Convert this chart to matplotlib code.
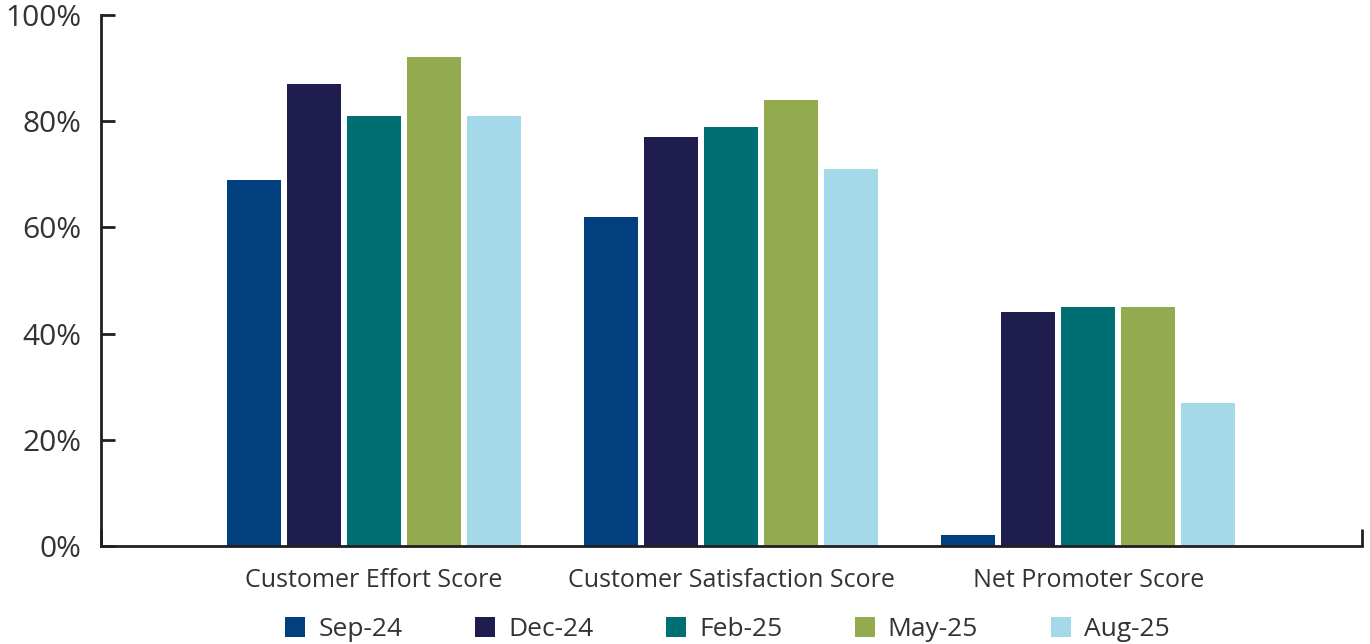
import numpy as np
import matplotlib
matplotlib.use('Agg')
from matplotlib import pyplot as plt
from matplotlib.patches import Patch

categories = ['Customer Effort Score', 'Customer Satisfaction Score', 'Net Promoter Score']
periods = ['Sep-24', 'Dec-24', 'Feb-25', 'May-25', 'Aug-25']
sep_24 = [69, 62, 2]
dec_24 = [87, 77, 44]
feb_25 = [81, 79, 45]
may_25 = [92, 84, 45]
aug_25 = [81, 71, 27]
series = [sep_24, dec_24, feb_25, may_25, aug_25]
colors = ['#023f7f', '#1e1d4d', '#006f74', '#94aa4e', '#a3d9e8']
y_ticks = [0, 20, 40, 60, 80, 100]

plt.rcParams['font.family'] = ['Open Sans', 'DejaVu Sans']
text_color = '#333333'

fig = plt.figure(figsize=(13.7, 6.44), dpi=100)
ax = fig.add_axes([101 / 1370, 98 / 644, 1261 / 1370, 531 / 644])

x = np.arange(len(categories))
step = 0.168
width = 0.151
for i, (vals, c) in enumerate(zip(series, colors)):
    ax.bar(x + (i - 2) * step, vals, width=width, color=c)

ax.set_xlim(-0.765, 2.767)
ax.set_ylim(0, 100)
ax.set_yticks(y_ticks)
ax.set_yticklabels([f'{t}%' for t in y_ticks], fontsize=21.5, color=text_color)
ax.set_xticks(x)
ax.set_xticklabels(categories, fontsize=18, color=text_color)
ax.tick_params(axis='x', length=0, pad=16)
ax.tick_params(axis='y', direction='in', length=10, width=2, color='#231f20', pad=14)
ax.set_xticks([-0.765, 2.767], minor=True)
ax.tick_params(axis='x', which='minor', direction='in', length=12, width=2, color='#231f20')

for s in ['top', 'right']:
    ax.spines[s].set_visible(False)
for s in ['left', 'bottom']:
    ax.spines[s].set_linewidth(2)
    ax.spines[s].set_color('#231f20')

handles = [Patch(facecolor=c, label=p) for p, c in zip(periods, colors)]
leg = fig.legend(handles=handles, loc='lower center', bbox_to_anchor=(0.531, -0.034), ncol=5,
                 frameon=False, fontsize=19, handlelength=0.75, handleheight=0.75,
                 handletextpad=0.5, columnspacing=2.75)
for t in leg.get_texts():
    t.set_color(text_color)

fig.savefig('out.png', dpi=100)
